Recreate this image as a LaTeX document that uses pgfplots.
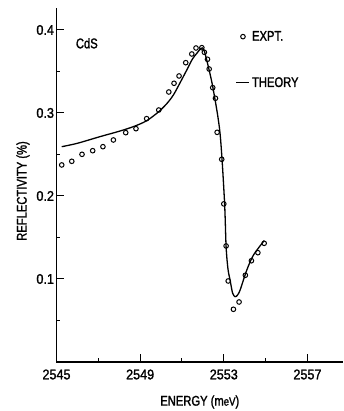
\documentclass[border=0pt]{standalone}
\usepackage{pgfplots}
\pgfplotsset{compat=1.18}
\usepackage{fontspec}
\setmainfont{Liberation Sans}[FakeStretch=0.8, FakeBold=1.5]
\newfontfamily\tickfont{Liberation Sans}[FakeStretch=0.9, FakeBold=1.5]
\pgfplotsset{shortline/.style={legend image code/.code={\draw[##1] (2pt,0pt) -- (15pt,0pt);}}}
\begin{document}
\begin{tikzpicture}
\path[use as bounding box] (-56.5pt,-49pt) rectangle (286.5pt,362pt);
\begin{axis}[
  at={(0pt,0pt)}, anchor=south west,
  scale only axis, width=286.5pt, height=354pt,
  xmin=2545, xmax=2558.7, ymin=0, ymax=0.4265,
  axis x line=bottom, axis y line=left,
  axis line style={-, line width=1.1pt},
  xtick={2545,2549,2553,2557}, ytick={0.1,0.2,0.3,0.4},
  minor xtick={2547,2551,2555}, minor ytick={0.05,0.15,0.25,0.35},
  tick align=inside, major tick length=8pt, minor tick length=4pt,
  tick style={line width=1pt, black},
  /pgf/number format/assume math mode=true,
  xticklabel style={font=\tickfont\fontsize{14}{16}\selectfont, yshift=-4pt},
  yticklabel style={font=\tickfont\fontsize{14}{16}\selectfont, xshift=1pt},
  scaled y ticks=false,
  xticklabels={2545,2549,2553,2557},
  yticklabels={0.1,0.2,0.3,0.4},
  xlabel={ENERGY (m{\fontsize{12}{14}\selectfont eV})},
  label style={font=\fontsize{14}{16}\selectfont},
  xlabel style={at={(axis description cs:0.5,0)}, anchor=center, yshift=-40pt},
  legend style={draw=none, fill=none, at={(0.625,0.941)}, anchor=north west,
    font=\fontsize{14}{16}\selectfont, row sep=31pt, inner sep=0pt},
  legend cell align=left,
  clip=false,
]
\addplot[only marks, mark=o, mark size=2.3pt, mark options={line width=1pt}] coordinates {
(2545.25,0.2374) (2545.73,0.2418) (2546.22,0.2502) (2546.73,0.2546) (2547.22,0.2594)
(2547.72,0.2675) (2548.31,0.2763) (2548.80,0.2811) (2549.31,0.2932) (2549.89,0.3036)
(2550.37,0.3253) (2550.62,0.3358) (2550.86,0.3446) (2551.18,0.3606) (2551.47,0.3711)
(2551.67,0.3783) (2551.95,0.3787) (2552.07,0.3731) (2552.22,0.3647) (2552.30,0.3530)
(2552.47,0.3305) (2552.60,0.3177) (2552.68,0.2767) (2552.90,0.2442) (2553.00,0.1905)
(2553.11,0.1398) (2553.21,0.0976) (2553.46,0.0635) (2553.73,0.0723) (2554.03,0.1045)
(2554.32,0.1220) (2554.63,0.1317) (2554.93,0.1430)
};
\addlegendentry{EXPT.}
\addplot[black, line width=1.3pt, smooth, tension=0.5, shortline] coordinates {
(2545.25,0.2594) (2546.0,0.2635) (2547.08,0.2715) (2548.0,0.2780) (2548.67,0.2835)
(2549.3,0.2905) (2549.89,0.3016) (2550.3,0.3120) (2550.59,0.3217) (2550.9,0.3360)
(2551.23,0.3518) (2551.5,0.3650) (2551.71,0.3719) (2551.92,0.3780) (2552.05,0.3760)
(2552.26,0.3558) (2552.50,0.3277) (2552.82,0.2755) (2553.03,0.1952) (2553.11,0.1389)
(2553.20,0.1120) (2553.30,0.0988) (2553.42,0.0830) (2553.54,0.0787) (2553.65,0.0805)
(2553.78,0.0867) (2554.10,0.1108) (2554.42,0.1289) (2554.93,0.1462)
};
\addlegendentry{THEORY}
\node[font=\fontsize{14}{16}\selectfont] at (axis cs:2546.45,0.384) {CdS};
\node[font=\fontsize{14}{16}\selectfont, rotate=90, anchor=center] at ([xshift=-33.5pt]axis description cs:0,0.483) {REFLECTIVITY (\%)};
\end{axis}
\end{tikzpicture}
\end{document}
